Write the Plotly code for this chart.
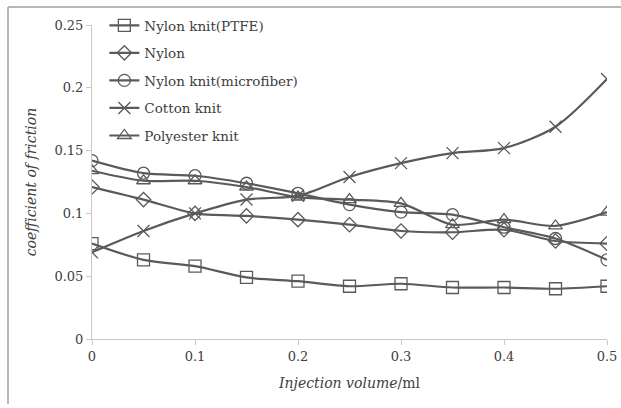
import plotly.graph_objects as go

x_vals = [0, 0.05, 0.1, 0.15, 0.2, 0.25, 0.3, 0.35, 0.4, 0.45, 0.5]
series_names = ["Nylon knit(PTFE)", "Nylon", "Nylon knit(microfiber)", "Cotton knit", "Polyester knit"]
ptfe = [0.076, 0.063, 0.058, 0.049, 0.046, 0.042, 0.044, 0.041, 0.041, 0.040, 0.042]
nylon = [0.121, 0.111, 0.100, 0.098, 0.095, 0.091, 0.086, 0.085, 0.087, 0.078, 0.076]
microfiber = [0.142, 0.132, 0.130, 0.124, 0.116, 0.107, 0.101, 0.099, 0.089, 0.080, 0.063]
cotton = [0.069, 0.086, 0.100, 0.111, 0.114, 0.129, 0.140, 0.148, 0.152, 0.169, 0.207]
polyester = [0.134, 0.126, 0.126, 0.121, 0.113, 0.111, 0.108, 0.091, 0.095, 0.090, 0.101]
y_ticks = [0, 0.05, 0.1, 0.15, 0.2, 0.25]
y_tick_text = ["0", "0.05", "0.1", "0.15", "0.2", "0.25"]
x_ticks = [0, 0.1, 0.2, 0.3, 0.4, 0.5]
x_tick_text = ["0", "0.1", "0.2", "0.3", "0.4", "0.5"]

all_series = [ptfe, nylon, microfiber, cotton, polyester]
symbols = ["square-open", "diamond-open", "circle-open", "x-thin-open", "triangle-up-open"]
sizes = [12, 11, 12, 12, 12]
line_color = "#5a5a5a"
font_family = "DejaVu Serif"

W, H = 621, 404
L, R, T, B = 92, 14, 25, 65
PW, PH = W - L - R, H - T - B
frame_top = (H - B - 7) / PH   # frame line 7px from the top of the page
frame_left = (8 - L) / PW      # frame line 8px from the left of the page

fig = go.Figure()
for i, (name, vals, sym, sz) in enumerate(zip(series_names, all_series, symbols, sizes)):
    fig.add_trace(go.Scatter(
        x=x_vals, y=vals, name=name, mode="lines+markers", legendgroup=f"g{i}",
        line=dict(color=line_color, width=2.2, shape="spline", smoothing=0.8),
        marker=dict(symbol=sym, size=sz, color=line_color, line=dict(color=line_color, width=1.3)),
    ))

fig.update_layout(
    width=W, height=H,
    margin=dict(l=L, r=R, t=T, b=B, autoexpand=False),
    paper_bgcolor="white", plot_bgcolor="white",
    font=dict(family=font_family, color="#404040", size=13),
    showlegend=True,
    legend=dict(x=0.024, y=1 + 15 / PH, xanchor="left", yanchor="top",
                bgcolor="rgba(0,0,0,0)", font=dict(size=13.5, family=font_family, color="#404040"),
                tracegroupgap=7, itemwidth=30),
    xaxis=dict(range=[0, 0.5], tickvals=x_ticks, ticktext=x_tick_text, automargin=False,
               showgrid=False, zeroline=False, showline=True, linecolor="#c8c8c8", linewidth=1,
               ticks="outside", ticklen=5, tickcolor="#c8c8c8",
               title=dict(text="<i>Injection volume</i>/ml", font=dict(size=14, family=font_family), standoff=15)),
    yaxis=dict(range=[0, 0.25], tickvals=y_ticks, ticktext=y_tick_text, automargin=False,
               showgrid=False, zeroline=False, showline=True, linecolor="#c8c8c8", linewidth=1,
               ticks="outside", ticklen=5, tickcolor="#c8c8c8",
               title=dict(text="<i>coefficient of friction</i>", font=dict(size=14, family=font_family), standoff=14)),
    shapes=[
        dict(type="line", xref="paper", yref="paper",
             x0=frame_left, x1=frame_left, y0=-B / PH, y1=frame_top,
             line=dict(color="#a0a0a0", width=1.5)),
        dict(type="line", xref="paper", yref="paper",
             x0=frame_left, x1=(W - L) / PW, y0=frame_top, y1=frame_top,
             line=dict(color="#a0a0a0", width=1.5)),
    ],
)

fig.write_html("out.html", config={"displayModeBar": False},
               post_script="document.body.style.margin='0';")
